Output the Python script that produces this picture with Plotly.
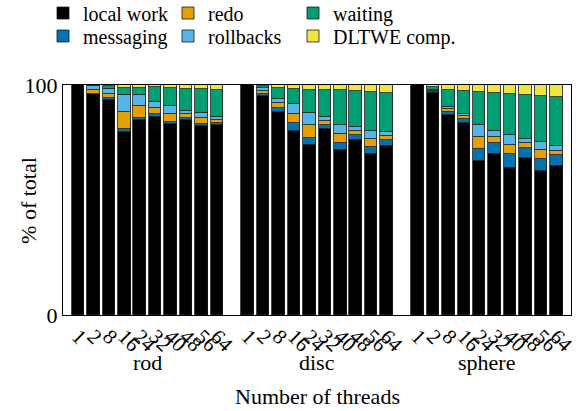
import plotly.graph_objects as go

# Thread counts per benchmark shape
threads = ["1", "2", "8", "16", "24", "32", "40", "48", "56", "64"]
shapes = ["rod", "disc", "sphere"]

# Share of total run time (%) per component, rod | disc | sphere
local_work = [100.0, 96.1, 93.5, 79.4, 84.9, 86.2, 83.0, 84.8, 82.3, 82.7,
              100.0, 95.2, 88.1, 80.1, 73.9, 80.7, 71.7, 76.1, 70.0, 73.6,
              100.0, 96.4, 87.0, 83.3, 67.0, 70.0, 63.8, 68.4, 62.7, 64.9]
messaging = [0.0, 0.2, 0.7, 1.6, 0.8, 1.2, 1.0, 0.9, 0.9, 0.9,
             0.0, 1.0, 1.8, 3.2, 3.0, 2.0, 3.0, 2.3, 3.0, 2.5,
             0.0, 0.5, 1.4, 2.0, 5.3, 5.0, 6.0, 4.3, 5.3, 4.6]
redo = [0.0, 1.7, 1.9, 7.4, 5.0, 2.7, 3.4, 1.5, 2.4, 1.2,
        0.0, 1.0, 2.2, 4.2, 5.5, 1.5, 4.0, 1.8, 3.6, 1.9,
        0.0, 0.5, 1.3, 1.3, 5.3, 2.6, 4.2, 2.2, 3.8, 2.0]
rollbacks = [0.0, 1.6, 2.0, 7.3, 5.0, 2.3, 3.6, 1.5, 2.2, 1.1,
             0.0, 1.5, 2.0, 4.2, 5.5, 1.7, 4.0, 1.4, 3.4, 1.6,
             0.0, 0.3, 0.8, 1.0, 5.2, 2.2, 4.3, 1.6, 3.5, 1.8]
waiting = [0.0, 0.3, 1.6, 3.1, 3.2, 6.6, 7.6, 9.6, 10.4, 12.0,
           0.0, 0.8, 4.6, 6.6, 10.1, 11.9, 15.0, 15.7, 17.0, 17.1,
           0.0, 1.5, 7.4, 9.6, 14.1, 16.8, 17.7, 19.0, 19.8, 21.4]
dltwe_comp = [0.0, 0.1, 0.3, 1.2, 1.1, 1.0, 1.4, 1.7, 1.8, 2.1,
              0.0, 0.5, 1.3, 1.7, 2.0, 2.2, 2.3, 2.7, 3.0, 3.3,
              0.0, 0.8, 2.1, 2.8, 3.1, 3.4, 4.0, 4.5, 4.9, 5.3]

# Bars of one shape sit side by side; one empty slot separates shapes
n = len(threads)
xpos = [g * (n + 1) + i for g in range(len(shapes)) for i in range(n)]
tick_text = threads * len(shapes)

FONT = "Liberation Serif"
series = [
    ("local work", local_work, "#000000"),
    ("messaging", messaging, "#0072B2"),
    ("redo", redo, "#E69F00"),
    ("rollbacks", rollbacks, "#56B4E9"),
    ("waiting", waiting, "#009E73"),
    ("DLTWE comp.", dltwe_comp, "#F0E442"),
]
# legend slots: (column, row)
slots = {"local work": (0, 0), "messaging": (0, 1), "redo": (1, 0),
         "rollbacks": (1, 1), "waiting": (2, 0), "DLTWE comp.": (2, 1)}

fig = go.Figure()
for k, (name, vals, color) in enumerate(series):
    lg = "legend" if k == 0 else f"legend{k + 1}"
    fig.add_trace(go.Bar(
        x=xpos, y=vals, name=name, legend=lg,
        marker=dict(color=color, line=dict(color="#1a1a1a", width=0.8)),
        width=0.81,
    ))

W, H = 585, 411
legend_layout = {}
for k, (name, _, _) in enumerate(series):
    col, row = slots[name]
    key = "legend" if k == 0 else f"legend{k + 1}"
    legend_layout[key] = dict(
        xref="container", yref="container",
        x=(43 + 125 * col) / W, y=1 - (13 + 23 * row) / H,
        xanchor="left", yanchor="middle",
        bgcolor="rgba(0,0,0,0)", borderwidth=0,
        font=dict(family=FONT, size=20, color="#000"),
    )

annotations = []
for g, s in enumerate(shapes):
    grp = xpos[g * n:(g + 1) * n]
    annotations.append(dict(
        x=sum(grp) / len(grp), y=-0.205, xref="x", yref="paper",
        text=s, showarrow=False, yanchor="middle",
        font=dict(family=FONT, size=22, color="#000"),
    ))
# y-axis title
annotations.append(dict(
    x=-0.069, y=0.5, xref="paper", yref="paper", text="% of total",
    textangle=-90, showarrow=False, xanchor="center", yanchor="middle",
    font=dict(family=FONT, size=22, color="#000"),
))
# x-axis title
annotations.append(dict(
    x=0.5, y=-0.355, xref="paper", yref="paper", text="Number of threads",
    showarrow=False, xanchor="center", yanchor="middle",
    font=dict(family=FONT, size=22, color="#000"),
))

fig.update_layout(
    width=W, height=H,
    margin=dict(l=63, r=14, t=85, b=96, autoexpand=False),
    barmode="stack",
    bargap=0,
    showlegend=True,
    paper_bgcolor="white", plot_bgcolor="white",
    font=dict(family=FONT, size=22, color="#000"),
    annotations=annotations,
    **legend_layout,
)
fig.update_xaxes(
    range=[-0.97, 31.95], tickmode="array", tickvals=xpos, ticktext=tick_text,
    tickangle=45, tickfont=dict(family=FONT, size=21), automargin=False,
    showline=True, mirror=True, linecolor="#000", linewidth=1,
    showgrid=False, zeroline=False, ticks="",
)
fig.update_yaxes(
    range=[0, 100], tickmode="array", tickvals=[0, 100], ticktext=["0", "100"],
    showline=True, mirror=True, linecolor="#000", linewidth=1,
    showgrid=False, zeroline=False, ticks="", automargin=False,
    tickfont=dict(family=FONT, size=22),
)

fig.write_html("out.html")
